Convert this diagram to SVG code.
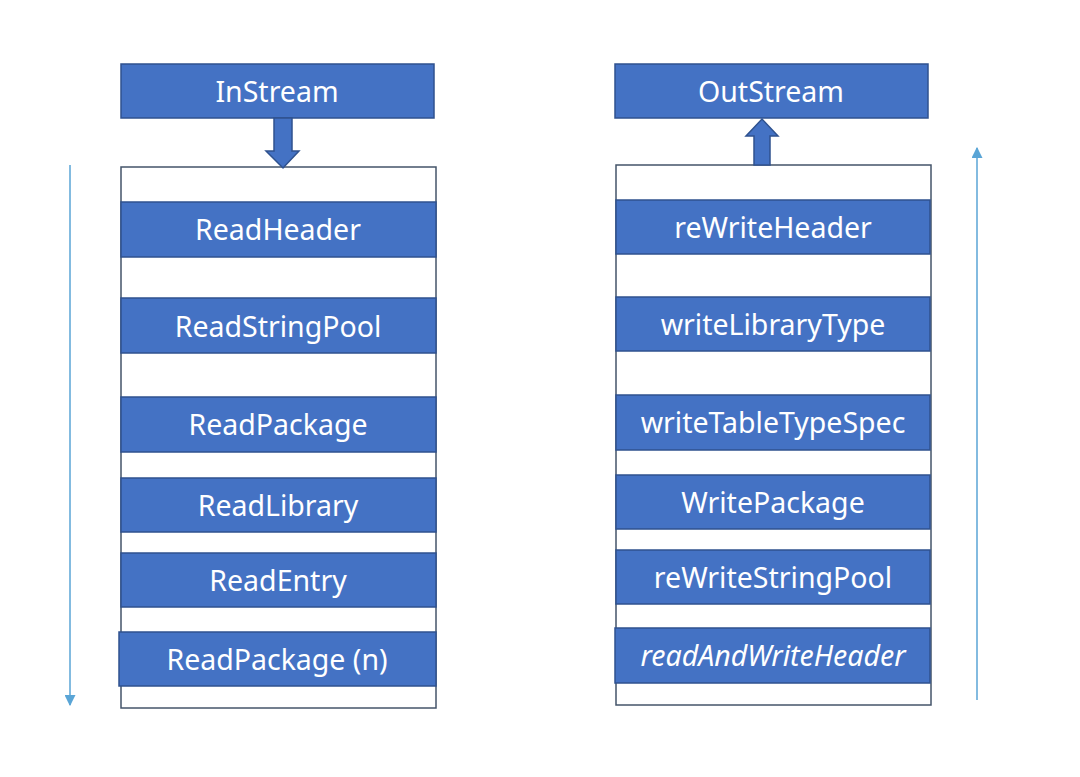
<svg xmlns="http://www.w3.org/2000/svg" width="1080" height="777" viewBox="0 0 1080 777">
<defs>
<style>
.bar{fill:#4472C4;stroke:#2F528F;stroke-width:1.5}
.box{fill:#FFFFFF;stroke:#44546A;stroke-width:1.5}
.lbl{fill:#FFFFFF;font-family:"Noto Sans","Open Sans",sans-serif;font-size:28.5px;text-anchor:middle;dominant-baseline:central}
.flow{stroke:#5AA5D6;stroke-width:1.5;fill:none}
</style>
<marker id="ah" viewBox="0 0 10 10" refX="9" refY="5" markerWidth="11" markerHeight="11" orient="auto-start-reverse" markerUnits="userSpaceOnUse">
<path d="M0,0 L10,5 L0,10 z" fill="#5AA5D6"/>
</marker>
</defs>
<rect width="1080" height="777" fill="#FFFFFF"/>

<g id="left-container"><rect class="box" x="121" y="167" width="315" height="541"/></g>
<g id="right-container"><rect class="box" x="616" y="165" width="315" height="540"/></g>

<g id="InStream"><rect class="bar" x="121" y="64" width="313" height="54"/><text class="lbl" x="277" y="91">InStream</text></g>
<g id="ReadHeader"><rect class="bar" x="121" y="202" width="315" height="55"/><text class="lbl" x="278" y="229">ReadHeader</text></g>
<g id="ReadStringPool"><rect class="bar" x="121" y="298" width="315" height="55"/><text class="lbl" x="278" y="326">ReadStringPool</text></g>
<g id="ReadPackage"><rect class="bar" x="121" y="397" width="315" height="55"/><text class="lbl" x="278" y="424">ReadPackage</text></g>
<g id="ReadLibrary"><rect class="bar" x="121" y="478" width="315" height="54"/><text class="lbl" x="278" y="505">ReadLibrary</text></g>
<g id="ReadEntry"><rect class="bar" x="121" y="553" width="315" height="54"/><text class="lbl" x="278" y="580">ReadEntry</text></g>
<g id="ReadPackageN"><rect class="bar" x="119" y="632" width="317" height="54"/><text class="lbl" x="277" y="659">ReadPackage (n)</text></g>

<g id="OutStream"><rect class="bar" x="615" y="64" width="313" height="54"/><text class="lbl" x="771" y="91">OutStream</text></g>
<g id="reWriteHeader"><rect class="bar" x="616" y="200" width="314" height="54"/><text class="lbl" x="773" y="227">reWriteHeader</text></g>
<g id="writeLibraryType"><rect class="bar" x="616" y="297" width="314" height="54"/><text class="lbl" x="773" y="324">writeLibraryType</text></g>
<g id="writeTableTypeSpec"><rect class="bar" x="616" y="395" width="314" height="55"/><text class="lbl" x="773" y="422">writeTableTypeSpec</text></g>
<g id="WritePackage"><rect class="bar" x="616" y="475" width="314" height="54"/><text class="lbl" x="773" y="502">WritePackage</text></g>
<g id="reWriteStringPool"><rect class="bar" x="616" y="550" width="314" height="54"/><text class="lbl" x="773" y="577">reWriteStringPool</text></g>
<g id="readAndWriteHeader"><rect class="bar" x="615" y="628" width="315" height="55"/><text class="lbl" x="773" y="655" font-style="italic">readAndWriteHeader</text></g>

<g id="connectors">
<path class="bar" d="M274,118 L292,118 L292,151 L299,151 L283,168 L266,151 L274,151 Z"/>
<path class="bar" d="M754,165 L770,165 L770,136 L778,136 L762,119 L746,136 L754,136 Z"/>
<line class="flow" x1="70" y1="165" x2="70" y2="705" marker-end="url(#ah)"/>
<line class="flow" x1="977" y1="700" x2="977" y2="148" marker-end="url(#ah)"/>
</g>
</svg>
